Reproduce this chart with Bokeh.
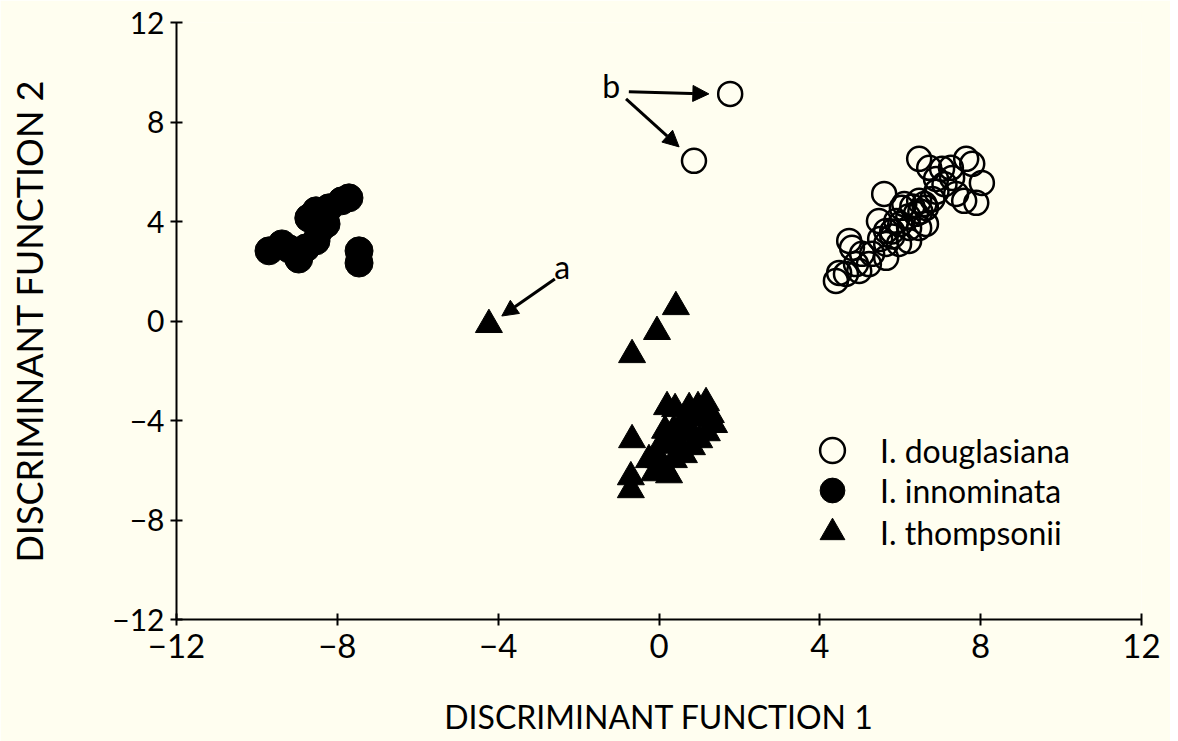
from bokeh.plotting import figure
from bokeh.models import (Range1d, FixedTicker, Arrow, NormalHead, Label,
                          Legend, LegendItem, ColumnDataSource)
from bokeh.embed import file_html
from bokeh.resources import INLINE

# ---------------- data ----------------
DOUGLASIANA_X = [1.77, 0.87,
                 6.47, 6.72, 7.04, 7.26, 7.64, 7.79, 8.03, 7.89, 7.59, 7.39, 7.29, 6.89,
                 5.60, 6.47, 6.64, 6.39, 6.04, 5.90, 6.22, 6.47, 6.64, 5.65, 5.47,
                 5.65, 5.97, 6.22, 4.80, 4.73, 5.05, 5.30, 4.90, 5.22, 5.65, 4.65,
                 4.40, 4.48, 4.98, 6.10, 5.80,
                 6.30, 6.50, 6.60, 6.80, 6.20, 6.00, 5.80, 5.50, 6.90, 7.10]
DOUGLASIANA_Y = [9.13, 6.44,
                 6.52, 6.16, 6.12, 6.16, 6.52, 6.32, 5.55, 4.75, 4.83, 5.11, 5.75, 5.71,
                 5.11, 4.83, 4.55, 4.31, 4.55, 4.02, 3.74, 3.74, 3.90, 3.62, 4.02,
                 3.10, 3.10, 3.22, 2.94, 3.22, 2.70, 2.70, 2.29, 2.29, 2.54, 1.89,
                 1.61, 1.93, 2.01, 4.70, 3.40,
                 4.60, 4.40, 4.70, 4.90, 4.20, 3.90, 3.60, 3.30, 5.20, 5.50]

INNOMINATA_X = [-9.70, -9.38, -8.96, -8.78, -8.53, -8.46, -8.71, -8.53, -8.21,
                -7.89, -7.71, -8.28, -7.46, -7.46, -9.20, -8.40]
INNOMINATA_Y = [2.82, 3.10, 2.49, 2.94, 3.22, 3.62, 4.14, 4.43, 4.55,
                4.83, 4.95, 3.90, 2.82, 2.33, 2.90, 4.20]

THOMPSONII_X = [-4.23, 0.42, -0.05, -0.67, 0.20, 0.40, 0.75, 0.97, 1.17, 1.29,
                1.37, 1.19, 1.00, 0.82, 0.62, 0.37, 0.12, -0.12, 0.25, 0.50,
                0.75, 0.37, 0.05, -0.25, -0.67, -0.70, -0.70, 0.62, 0.00,
                0.50, 0.80, 0.30, 1.05, 0.15]
THOMPSONII_Y = [-0.15, 0.57, -0.43, -1.36, -3.45, -3.53, -3.49, -3.45, -3.29, -3.77,
                -4.17, -4.50, -4.78, -5.06, -5.38, -5.58, -5.86, -6.11, -6.19, -4.98,
                -4.38, -4.38, -4.98, -5.58, -4.78, -6.27, -6.79, -3.97, -5.58,
                -4.50, -3.90, -5.00, -3.90, -4.40]

TICKS = [-12, -8, -4, 0, 4, 8, 12]
TICK_LABELS = ["\u221212", "\u22128", "\u22124", "0", "4", "8", "12"]

SPECIES = ["I. douglasiana", "I. innominata", "I. thompsonii"]
X_TITLE = "DISCRIMINANT FUNCTION 1"
Y_TITLE = "DISCRIMINANT FUNCTION 2"

# ---------------- figure ----------------
BG = "#fffef0"
FONT = "Lato"

p = figure(width=1170, height=741, output_backend="svg", toolbar_location=None,
           x_range=Range1d(-12, 12), y_range=Range1d(-12, 12),
           min_border_left=176, min_border_right=29, min_border_top=22,
           min_border_bottom=122)
p.background_fill_color = BG
p.border_fill_color = BG
p.outline_line_color = None
p.grid.visible = False

for ax in (p.xaxis[0], p.yaxis[0]):
    ax.ticker = FixedTicker(ticks=TICKS)
    ax.major_label_overrides = dict(zip(TICKS, TICK_LABELS))
    ax.minor_tick_line_color = None
    ax.major_tick_in = 6
    ax.major_tick_out = 6
    ax.major_tick_line_width = 2
    ax.major_tick_line_color = "black"
    ax.axis_line_width = 2
    ax.axis_line_color = "black"
    ax.major_label_text_font = FONT
    ax.major_label_text_color = "black"
    ax.axis_label_text_font = FONT
    ax.axis_label_text_font_style = "normal"
    ax.axis_label_text_color = "black"

p.xaxis.axis_label = X_TITLE
p.yaxis.axis_label = Y_TITLE
p.xaxis.major_label_text_font_size = "33px"
p.yaxis.major_label_text_font_size = "30px"
p.xaxis.major_label_standoff = 8
p.yaxis.major_label_standoff = 6
p.xaxis.axis_label_text_font_size = "32px"
p.yaxis.axis_label_text_font_size = "36px"
p.xaxis.axis_label_standoff = 36
p.yaxis.axis_label_standoff = 58

src_d = ColumnDataSource(dict(x=DOUGLASIANA_X, y=DOUGLASIANA_Y))
src_i = ColumnDataSource(dict(x=INNOMINATA_X, y=INNOMINATA_Y))
src_t = ColumnDataSource(dict(x=THOMPSONII_X, y=THOMPSONII_Y))

r_d = p.scatter("x", "y", source=src_d, marker="circle", size=24,
                fill_color=None, line_color="black", line_width=2.5)
r_i = p.scatter("x", "y", source=src_i, marker="circle", size=28,
                fill_color="black", line_color="black")
r_t = p.scatter("x", "y", source=src_t, marker="triangle", size=27,
                fill_color="black", line_color="black")

# annotations
def head():
    return NormalHead(size=16, fill_color="black", line_color="black")

p.add_layout(Arrow(end=head(), x_start=-0.75, y_start=9.22, x_end=1.24, y_end=9.13,
                   line_width=3, line_color="black"))
p.add_layout(Arrow(end=head(), x_start=-0.82, y_start=8.93, x_end=0.50, y_end=7.0,
                   line_width=3, line_color="black"))
p.add_layout(Arrow(end=head(), x_start=-2.59, y_start=1.69, x_end=-3.91, y_end=0.2,
                   line_width=3, line_color="black"))
p.add_layout(Label(x=-1.19, y=9.46, text="b", text_align="center", text_color="black",
                   text_baseline="middle", text_font=FONT, text_font_size="32px"))
p.add_layout(Label(x=-2.41, y=2.21, text="a", text_align="center", text_color="black",
                   text_baseline="middle", text_font=FONT, text_font_size="32px"))

# legend: one single-row legend per species so rows can sit close together
renderers = [r_d, r_i, r_t]
row_bottoms = [138, 98, 56]
for name, rend, yb in zip(SPECIES, renderers, row_bottoms):
    lg = Legend(items=[LegendItem(label=name, renderers=[rend])],
                location=(625, yb), glyph_width=62, glyph_height=62,
                padding=0, margin=0, label_standoff=17, label_height=30,
                label_text_font=FONT, label_text_font_size="32px",
                label_text_color="black",
                border_line_color=None, background_fill_alpha=0)
    p.add_layout(lg)

html = file_html(p, INLINE)
html = html.replace("<body>", '<body style="background:%s">' % BG, 1)
open("out.html", "w").write(html)
